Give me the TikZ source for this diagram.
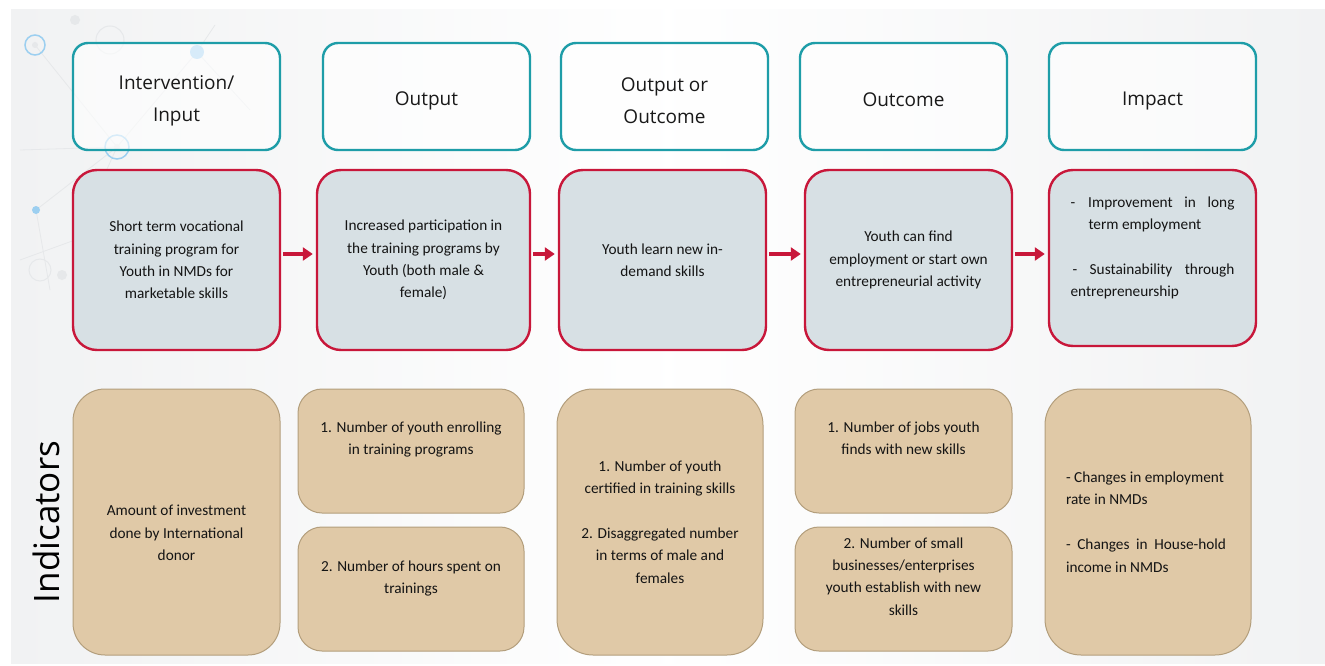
\documentclass[tikz,border=0pt]{standalone}
\usepackage{fontspec}
\setmainfont{Carlito}
\newfontfamily\headfont{Open Sans}
\usetikzlibrary{arrows.meta,calc}
\definecolor{tealc}{HTML}{1E9DA8}
\definecolor{redc}{HTML}{C8173A}
\definecolor{grayfill}{HTML}{D7E0E4}
\definecolor{tanfill}{HTML}{E0C9A7}
\definecolor{tanline}{HTML}{B39E7C}
\definecolor{bgc}{HTML}{F1F2F3}
\definecolor{decoblue}{HTML}{9CCFF0}
\definecolor{decogray}{HTML}{E6E8EA}
\tikzset{
  headbox/.style={draw=tealc, line width=2.4pt, rounded corners=15pt, fill=white, fill opacity=0.6, text opacity=1, inner sep=0pt},
  chainbox/.style={draw=redc, line width=2.4pt, rounded corners=24pt, fill=grayfill, inner sep=0pt},
  indbox/.style={draw=tanline, line width=1pt, fill=tanfill, inner sep=0pt},
  headtxt/.style={font=\headfont\fontsize{19}{32}\selectfont, align=center, text=black!90},
  bodytxt/.style={font=\fontsize{15.3}{22.4}\selectfont, align=center, text=black!92},
  flow/.style={draw=redc, line width=3.8pt, -{Triangle[length=10pt,width=13pt]}, shorten <=2pt, shorten >=3pt},
  deco/.style={draw=decogray, line width=0.8pt},
}
\begin{document}
\begin{tikzpicture}[x=1pt,y=-1pt]
\useasboundingbox (0,0) rectangle (1325,666);
\fill[white] (0,0) rectangle (1325,666);
\shade[left color=bgc, right color=bgc, middle color=white!97!bgc] (11,10) rectangle (1325,663);
% background network decoration
\draw[deco] (20,150) -- (117,147) -- (197,52) -- (215,25);
\draw[deco] (35,45) -- (117,147) -- (36,210) -- (50,290);
\draw[deco] (117,147) -- (75,240) -- (20,260);
\draw[deco] (197,52) -- (250,110);
\fill[decogray] (75,20) circle (5);
\fill[decogray] (62,275) circle (5);
\draw[decogray, line width=1pt] (40,270) circle (11);
\draw[decogray, line width=1pt] (110,40) circle (14);
\draw[decoblue, line width=1.5pt] (35,45) circle (10);
\fill[decogray] (35,45) circle (3);
\fill[decoblue] (197,52) circle (7);
\draw[decoblue, line width=1.5pt] (117,147) circle (12);
\fill[decogray] (117,147) circle (3);
\fill[decoblue] (36,210) circle (4);

% header boxes
\node[headbox, minimum width=207pt, minimum height=107pt] (h1) at (176.5,96.5) {};
\node[headbox, minimum width=207pt, minimum height=107pt] (h2) at (426.5,96.5) {};
\node[headbox, minimum width=207pt, minimum height=107pt] (h3) at (664.5,96.5) {};
\node[headbox, minimum width=207pt, minimum height=107pt] (h4) at (903.5,96.5) {};
\node[headbox, minimum width=207pt, minimum height=107pt] (h5) at (1152.5,96.5) {};
\node[headtxt] (h1t) at ([yshift=-4pt]h1.center) {Intervention/\\Input};
\node[headtxt] (h2t) at ([yshift=-4pt]h2.center) {Output};
\node[headtxt] (h3t) at ([yshift=-4pt]h3.center) {Output or\\Outcome};
\node[headtxt] (h4t) at ([yshift=-3pt]h4.center) {Outcome};
\node[headtxt] (h5t) at ([yshift=-5pt]h5.center) {Impact};

% results chain boxes
\node[chainbox, minimum width=207pt, minimum height=180pt] (r1) at (176.5,260) {};
\node[chainbox, minimum width=213pt, minimum height=180pt] (r2) at (423.5,260) {};
\node[chainbox, minimum width=207pt, minimum height=180pt] (r3) at (662.5,260) {};
\node[chainbox, minimum width=207pt, minimum height=180pt] (r4) at (908.5,260) {};
\node[chainbox, minimum width=207pt, minimum height=176pt] (r5) at (1152.5,258) {};
\node[bodytxt] (r1t) at (r1) {Short term vocational\\training program for\\Youth in NMDs for\\marketable skills};
\node[bodytxt] (r2t) at (r2) {Increased participation in\\the training programs by\\Youth (both male \&\\female)};
\node[bodytxt] (r3t) at (r3) {Youth learn new in-\\demand skills};
\node[bodytxt] (r4t) at (r4) {Youth can find\\employment or start own\\entrepreneurial activity};
\node[bodytxt, align=left, anchor=north] (r5t) at (1152.5,193) {%
\hbox to 164pt{-\hskip 13pt Improvement\hfil in\hfil long}\\
\hbox to 164pt{\hskip 18pt term employment\hfil}\\[22.4pt]
\hbox to 164pt{\hskip 2pt -\hfil Sustainability\hfil through}\\
\hbox to 164pt{entrepreneurship\hfil}};

\draw[flow] ([yshift=6pt]r1.east) -- ([yshift=6pt]r1.east -| r2.west);
\draw[flow] ([yshift=6pt]r2.east) -- ([yshift=6pt]r2.east -| r3.west);
\draw[flow] ([yshift=6pt]r3.east) -- ([yshift=6pt]r3.east -| r4.west);
\draw[flow] ([yshift=6pt]r4.east) -- ([yshift=6pt]r4.east -| r5.west);

% indicators
\node[rotate=90, font=\headfont\fontsize{35}{40}\selectfont, text=black] (ind) at (46,522) {Indicators};
\node[indbox, rounded corners=32pt, minimum width=207pt, minimum height=266pt] (i1) at (176.5,522) {};
\node[indbox, rounded corners=24pt, minimum width=226pt, minimum height=124pt] (i2a) at (411,451) {};
\node[indbox, rounded corners=24pt, minimum width=226pt, minimum height=124pt] (i2b) at (411,589) {};
\node[indbox, rounded corners=36pt, minimum width=206pt, minimum height=266pt] (i3) at (660,522) {};
\node[indbox, rounded corners=24pt, minimum width=217pt, minimum height=124pt] (i4a) at (903.5,451) {};
\node[indbox, rounded corners=24pt, minimum width=217pt, minimum height=124pt] (i4b) at (903.5,589) {};
\node[indbox, rounded corners=36pt, minimum width=206pt, minimum height=266pt] (i5) at (1148,522) {};

\node[bodytxt] (i1t) at (176.5,533) {Amount of investment\\done by International\\donor};
\node[bodytxt, anchor=north] (i2at) at (411,418) {1. Number of youth enrolling\\in training programs};
\node[bodytxt, anchor=north] (i2bt) at (411,557) {2. Number of hours spent on\\trainings};
\node[bodytxt] (i3t) at (660,522) {1. Number of youth\\certified in training skills\\[22.4pt]2. Disaggregated number\\in terms of male and\\females};
\node[bodytxt, anchor=north] (i4at) at (903.5,418) {1. Number of jobs youth\\finds with new skills};
\node[bodytxt, anchor=north] (i4bt) at (903.5,534) {2. Number of small\\businesses/enterprises\\youth establish with new\\skills};
\node[bodytxt, align=left] (i5t) at (1146,522) {%
\hbox to 160pt{- Changes in employment\hfil}\\
\hbox to 160pt{rate in NMDs\hfil}\\[22.4pt]
\hbox to 160pt{-\hfil Changes\hfil in\hfil House-hold}\\
\hbox to 160pt{income in NMDs\hfil}};
\end{tikzpicture}
\end{document}
